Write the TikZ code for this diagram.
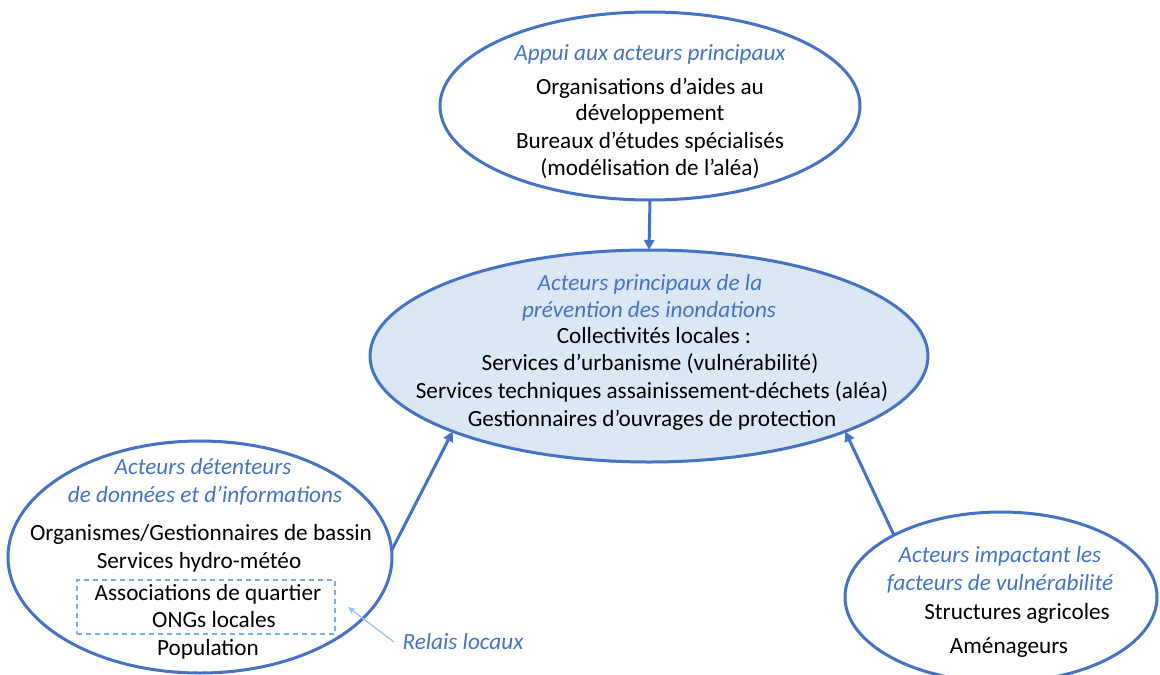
\documentclass[tikz,border=0pt]{standalone}
\usepackage{fontspec}
\setmainfont{Carlito}
\usetikzlibrary{shapes.geometric,arrows.meta}
\definecolor{mainblue}{HTML}{4472C4}
\definecolor{fillblue}{HTML}{DCE7F5}
\definecolor{lightblue}{HTML}{9DC3E6}
\definecolor{dashblue}{HTML}{5B9BD5}
\begin{document}
\begin{tikzpicture}[x=1pt,y=-1pt,
  ell/.style={ellipse, draw=mainblue, line width=3pt, inner sep=0pt, outer sep=0pt},
  txt/.style={anchor=base, font=\fontsize{23.2}{27}\selectfont, text=black, inner sep=0pt},
  itxt/.style={anchor=base, font=\fontsize{23.2}{27}\selectfont\itshape, text=mainblue, inner sep=0pt},
  arr/.style={draw=mainblue, line width=3pt, -{Triangle[length=10pt,width=10pt]}},
  relais/.style={draw=lightblue, line width=1.3pt, -{Stealth[length=8pt,width=7pt]}},
  dashbox/.style={draw=dashblue!80, dash pattern=on 5pt off 4pt, line width=1.4pt, inner sep=0pt}]
\useasboundingbox (0,0) rectangle (1160,675);
% ellipses
\node[ell, minimum width=420pt, minimum height=188pt] (T) at (650,106) {};
\node[ell, fill=fillblue, minimum width=558pt, minimum height=212pt] (C) at (649,356) {};
\node[ell, minimum width=384pt, minimum height=232pt] (L) at (200,557) {};
\node[ell, minimum width=312pt, minimum height=170pt] (R) at (1001,597) {};
% dashed box
\node[dashbox, minimum width=258pt, minimum height=54pt] (box) at (206,607) {};
% top texts
\node[itxt] (t1) at (650,60) {Appui aux acteurs principaux};
\node[txt] (t2) at (650,94) {Organisations d’aides au};
\node[txt] (t3) at (650,120) {développement};
\node[txt] (t4) at (650,148) {Bureaux d’études spécialisés};
\node[txt] (t5) at (650,175) {(modélisation de l’aléa)};
% centre texts
\node[itxt] (c1) at (650,290) {Acteurs principaux de la};
\node[itxt] (c2) at (649,317) {prévention des inondations};
\node[txt] (c3) at (654,343) {Collectivités locales :};
\node[txt] (c4) at (650,370) {Services d’urbanisme (vulnérabilité)};
\node[txt] (c5) at (652,398) {Services techniques assainissement-déchets (aléa)};
\node[txt] (c6) at (652,426) {Gestionnaires d’ouvrages de protection};
% left texts
\node[itxt] (l1) at (203,474) {Acteurs détenteurs};
\node[itxt] (l2) at (205,502) {de données et d’informations};
\node[txt] (l3) at (201,540) {Organismes/Gestionnaires de bassin};
\node[txt] (l4) at (199,568) {Services hydro-météo};
\node[txt] (l5) at (208,600) {Associations de quartier};
\node[txt] (l6) at (214,627) {ONGs locales};
\node[txt] (l7) at (208,655) {Population};
% right texts
\node[itxt] (r1) at (1000,562) {Acteurs impactant les};
\node[itxt] (r2) at (1000,590) {facteurs de vulnérabilité};
\node[txt] (r3) at (1017,619) {Structures agricoles};
\node[txt] (r4) at (1009,653) {Aménageurs};
% relais label
\node[itxt] (rl) at (463,649) {Relais locaux};
\coordinate (relaisTail) at (394,642);
\coordinate (relaisHead) at (348,607);
% connectors
\draw[arr] (T.south) -- (C.north);
\draw[arr] (L.2) -- (C.201);
\draw[arr] (R.150) -- (C.339);
\draw[relais] (relaisTail) -- (relaisHead);
\end{tikzpicture}
\end{document}
